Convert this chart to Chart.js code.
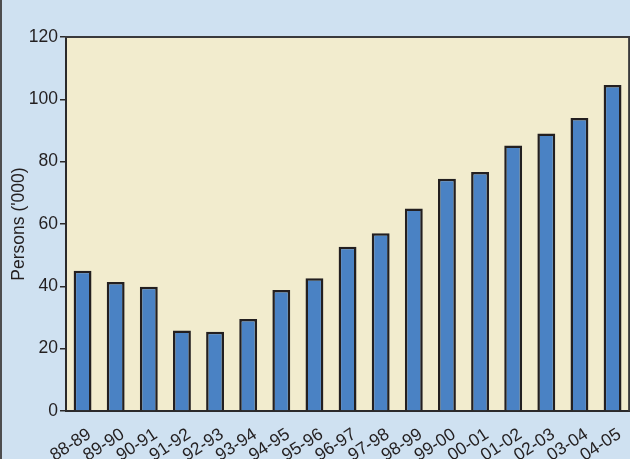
<!DOCTYPE html>
<html>
<head>
<meta charset="utf-8">
<script src="https://cdn.jsdelivr.net/npm/chart.js@4.4.1/dist/chart.umd.min.js"></script>
<style>
  html, body { margin: 0; padding: 0; overflow: hidden; background: #cfe1f1; width: 630px; height: 459px; }
  #wrap { position: relative; width: 630px; height: 459px; overflow: hidden; }
  #c { position: absolute; left: 0; top: 0; }
  #edge { position: absolute; left: 0; top: 0; width: 2px; height: 459px; background: #4d4d4f; }
</style>
</head>
<body>
<div id="wrap">
  <canvas id="c" width="637" height="459"></canvas>
  <div id="edge"></div>
</div>
<script>
const categories = ['88-89','89-90','90-91','91-92','92-93','93-94','94-95','95-96','96-97','97-98','98-99','99-00','00-01','01-02','02-03','03-04','04-05'];
const persons = [45.0, 41.4, 39.9, 25.8, 25.4, 29.5, 38.8, 42.6, 52.7, 57.0, 65.0, 74.5, 76.7, 85.2, 89.0, 94.0, 104.6];
const yMin = 0, yMax = 120, yStep = 20;
const yTitle = "Persons ('000)";

const FONT = "'Liberation Sans', Arial, sans-serif";
const BG = '#cfe1f1';
const PLOT_BG = '#f2ecce';
const DARK = '#2b2a2b';

const bgPlugin = {
  id: 'bgPlugin',
  beforeDraw(chart) {
    const {ctx, chartArea: a} = chart;
    ctx.save();
    ctx.fillStyle = BG;
    ctx.fillRect(0, 0, chart.width, chart.height);
    ctx.fillStyle = PLOT_BG;
    ctx.fillRect(a.left, a.top, a.right - a.left, a.bottom - a.top);
    ctx.restore();
  },
  afterDraw(chart) {
    const {ctx, chartArea: a} = chart;
    ctx.save();
    ctx.strokeStyle = '#3a3a3c';
    ctx.lineWidth = 2;
    ctx.beginPath();
    ctx.moveTo(a.left - 1, a.top);
    ctx.lineTo(a.right, a.top);
    ctx.lineTo(a.right, a.bottom);
    ctx.stroke();
    ctx.restore();
  }
};

new Chart(document.getElementById('c'), {
  type: 'bar',
  data: {
    labels: categories,
    datasets: [{
      data: persons,
      backgroundColor: '#4a82c4',
      borderColor: '#231f20',
      borderWidth: 2.5,
      barPercentage: 0.54,
      categoryPercentage: 1.0
    }]
  },
  options: {
    responsive: false,
    devicePixelRatio: 1,
    animation: false,
    layout: { padding: { top: 37, left: 0, right: 0, bottom: 0 } },
    plugins: { legend: { display: false }, tooltip: { enabled: false }, title: { display: false } },
    scales: {
      x: {
        grid: { display: false, drawTicks: false },
        border: { display: true, color: DARK, width: 2 },
        ticks: {
          color: '#231f20',
          font: { family: FONT, size: 17.5 },
          minRotation: 33, maxRotation: 33,
          autoSkip: false,
          padding: 13,
          labelOffset: 7
        },
        afterFit(s) { s.height = 48; }
      },
      y: {
        min: yMin, max: yMax,
        grid: { drawOnChartArea: false, drawTicks: true, tickLength: 6, color: DARK, lineWidth: 1.5 },
        border: { display: true, color: DARK, width: 2 },
        ticks: {
          stepSize: yStep,
          color: '#231f20',
          font: { family: FONT, size: 17.5 },
          padding: 2
        },
        title: {
          display: true,
          text: yTitle,
          color: '#231f20',
          font: { family: FONT, size: 17.5 },
          padding: { top: 9, bottom: 0 }
        },
        afterFit(s) { s.width = 66; }
      }
    }
  },
  plugins: [bgPlugin]
});
</script>
</body>
</html>
